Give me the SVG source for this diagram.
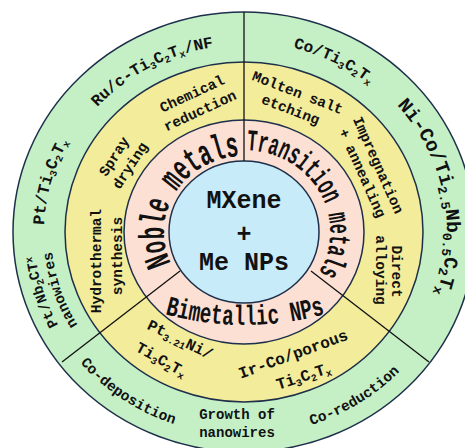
<svg xmlns="http://www.w3.org/2000/svg" width="465" height="448" viewBox="0 0 465 448">
<style>
 .ring { stroke: #1d2f4a; stroke-width: 1.5; }
 .div { stroke: #111; stroke-width: 1.3; fill: none; }
 text { font-family: "Liberation Mono", "Courier New", monospace; font-weight: bold; fill: #111; }
 .lb { font-size: 14.5px; }
 .sb { font-size: 10px; }
 .m { text-anchor: middle; }
 .ctr { font-size: 25px; text-anchor: middle; }
</style>
<defs>
 <path id="pA" d="M54.6,180.4 A197,187.15 0 0,1 298.3,52.1"/>
 <path id="pB" d="M62.7,312.3 A200,190 0 0,1 129.3,76.4"/>
 <path id="pC1" d="M129.6,399.3 A210,199.5 0 0,1 50.7,154.1"/>
 <path id="pC2" d="M141.7,387.5 A193,183.35 0 0,1 65.1,163.3"/>
 <path id="pD" d="M199,46.9 A200,190 0 0,1 428.1,157.8"/>
 <path id="pE" d="M342.4,63.3 A203,192.85 0 0,1 401.8,353.4"/>
 <path id="pF" d="M37.3,284.6 A214,203.3 0 0,0 262.7,434.5"/>
 <path id="pG" d="M217.9,433.8 A214,203.3 0 0,0 448.6,291.4"/>
 <path id="pN" d="M182.7,280.9 A80,76 0 0,1 260.6,157.7"/>
 <path id="pT" d="M214.6,155.2 A86,81.7 0 0,1 297,296.4"/>
 <path id="pBi" d="M140,306 A300,300 0 0,0 350,306"/>
</defs>
<rect width="465" height="448" fill="#ffffff"/>

<g id="ring-outer"><ellipse class="ring" cx="244" cy="232" rx="231" ry="220" fill="#c5f0c6"/></g>
<g id="ring-methods"><ellipse class="ring" cx="244" cy="232" rx="179" ry="170" fill="#f2ec9b"/></g>
<g id="ring-types"><ellipse class="ring" cx="244" cy="232" rx="120" ry="112" fill="#fde0d4"/></g>
<g id="core"><ellipse class="ring" cx="244" cy="232" rx="75" ry="71" fill="#c8ebfa"/>
 <text class="ctr" x="244" y="208">MXene</text>
 <text class="ctr" x="244" y="242">+</text>
 <text class="ctr" x="244" y="270">Me NPs</text>
</g>

<g id="connectors">
 <line class="div" x1="244" y1="12" x2="244" y2="161"/>
 <line class="div" x1="180" y1="271" x2="62" y2="362"/>
 <line class="div" x1="311" y1="271" x2="429" y2="362"/>
</g>

<g id="noble-metals">
 <text font-size="36" textLength="150" lengthAdjust="spacingAndGlyphs"><textPath href="#pN" startOffset="50%" text-anchor="middle">Noble metals</textPath></text>
</g>
<g id="transition-metals">
 <text font-size="30" textLength="172" lengthAdjust="spacingAndGlyphs"><textPath href="#pT" startOffset="50%" text-anchor="middle">Transition metals</textPath></text>
</g>
<g id="bimetallic">
 <text font-size="28" textLength="162" lengthAdjust="spacingAndGlyphs"><textPath href="#pBi" startOffset="50%" text-anchor="middle">Bimetallic NPs</textPath></text>
</g>

<g id="m-chemical-reduction" class="lb">
 <text class="m" transform="translate(194,98) rotate(-25)">Chemical</text>
 <text class="m" transform="translate(202,115) rotate(-25)">reduction</text>
</g>
<g id="m-spray-drying" class="lb">
 <text class="m" transform="translate(118,159) rotate(-57)">Spray</text>
 <text class="m" transform="translate(134,168) rotate(-57)">drying</text>
</g>
<g id="m-hydrothermal" class="lb">
 <text class="m" transform="translate(101,261) rotate(-90)">Hydrothermal</text>
 <text class="m" transform="translate(122,256) rotate(-90)">synthesis</text>
</g>
<g id="m-molten-salt" class="lb">
 <text class="m" transform="translate(296,97) rotate(21)">Molten salt</text>
 <text class="m" transform="translate(289,114) rotate(21)">etching</text>
</g>
<g id="m-impregnation" class="lb">
 <text class="m" transform="translate(374,167) rotate(66)">Impregnation</text>
 <text class="m" transform="translate(358,175) rotate(66)">+ annealing</text>
</g>
<g id="m-direct-alloying" class="lb">
 <text class="m" transform="translate(392,271.5) rotate(90)">Direct</text>
 <text class="m" transform="translate(376,270) rotate(90)">alloying</text>
</g>
<g id="m-ptni" font-size="15.5">
 <text class="m" transform="translate(178,344) rotate(26)">Pt<tspan class="sb" dy="3">3.21</tspan><tspan dy="-3">Ni/</tspan></text>
 <text class="m" transform="translate(159,364) rotate(29)">Ti<tspan class="sb" dy="3">3</tspan><tspan dy="-3">C</tspan><tspan class="sb" dy="3">2</tspan><tspan dy="-3">T</tspan><tspan class="sb" dy="3">x</tspan></text>
</g>
<g id="m-irco" font-size="16">
 <text class="m" transform="translate(295,359) rotate(-20)">Ir-Co/porous</text>
 <text class="m" transform="translate(305,381) rotate(-18)">Ti<tspan class="sb" dy="3">3</tspan><tspan dy="-3">C</tspan><tspan class="sb" dy="3">2</tspan><tspan dy="-3">T</tspan><tspan class="sb" dy="3">x</tspan></text>
</g>

<g id="e-ru" font-size="16">
 <text><textPath href="#pA" startOffset="50%" text-anchor="middle">Ru/c-Ti<tspan class="sb" dy="3">3</tspan><tspan dy="-3">C</tspan><tspan class="sb" dy="3">2</tspan><tspan dy="-3">T</tspan><tspan class="sb" dy="3">x</tspan><tspan dy="-3">/NF</tspan></textPath></text>
</g>
<g id="e-pt" font-size="16.5">
 <text><textPath href="#pB" startOffset="50%" text-anchor="middle">Pt/Ti<tspan class="sb" dy="3">3</tspan><tspan dy="-3">C</tspan><tspan class="sb" dy="3">2</tspan><tspan dy="-3">T</tspan><tspan class="sb" dy="3">x</tspan></textPath></text>
</g>
<g id="e-ptnb" font-size="14.5">
 <text><textPath href="#pC1" startOffset="50%" text-anchor="middle">Pt/Nb<tspan class="sb" dy="3">2</tspan><tspan dy="-3">CT</tspan><tspan class="sb" dy="-4">x</tspan></textPath></text>
 <text><textPath href="#pC2" startOffset="50%" text-anchor="middle">nanowires</textPath></text>
</g>
<g id="e-co" font-size="16">
 <text><textPath href="#pD" startOffset="50%" text-anchor="middle">Co/Ti<tspan class="sb" dy="3">3</tspan><tspan dy="-3">C</tspan><tspan class="sb" dy="3">2</tspan><tspan dy="-3">T</tspan><tspan class="sb" dy="3">x</tspan></textPath></text>
</g>
<g id="e-nico" font-size="19.5">
 <text><textPath href="#pE" startOffset="50%" text-anchor="middle">Ni-Co/Ti<tspan font-size="13" dy="4">2.5</tspan><tspan dy="-4">Nb</tspan><tspan font-size="13" dy="4">0.5</tspan><tspan dy="-4">C</tspan><tspan font-size="13" dy="4">2</tspan><tspan dy="-4">T</tspan><tspan font-size="13" dy="4">x</tspan></textPath></text>
</g>
<g id="e-codep" font-size="14.5">
 <text><textPath href="#pF" startOffset="50%" text-anchor="middle">Co-deposition</textPath></text>
</g>
<g id="e-growth" font-size="14">
 <text class="m" x="237" y="419">Growth of</text>
 <text class="m" x="237" y="437">nanowires</text>
</g>
<g id="e-cored" font-size="14.5">
 <text><textPath href="#pG" startOffset="50%" text-anchor="middle">Co-reduction</textPath></text>
</g>
</svg>
